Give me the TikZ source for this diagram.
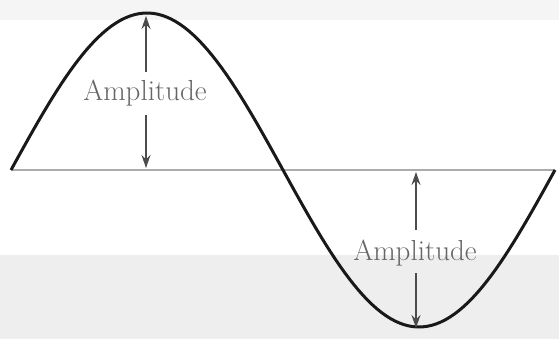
\documentclass[tikz,border=0pt]{standalone}
\usetikzlibrary{arrows.meta}
\begin{document}
\begin{tikzpicture}[x=1pt,y=-1pt,
  wave/.style={line width=3pt,black!90},
  axisline/.style={line width=2pt,gray!65},
  amparrow/.style={line width=1.1pt,black!70,-{Stealth[length=13pt,width=9pt]}},
  amplabel/.style={text=black!60,font=\fontsize{29}{33}\selectfont,anchor=base,inner sep=0pt}]
\useasboundingbox (0,0) rectangle (559,339);
\fill[gray!13] (0,255) rectangle (559,339);
\fill[gray!8] (0,0) rectangle (559,20);
% axis
\coordinate (axl) at (11,170);
\coordinate (axr) at (555,170);
\draw[axisline] (axl) -- (axr);
% sine wave
\draw[wave,line join=round] plot[domain=0:360,samples=120] ({11+\x/360*544},{170-157*sin(\x)});
% upper amplitude
\coordinate (peak) at (146,16);
\coordinate (base1) at (146,168);
\coordinate (s1t) at (146,72);
\coordinate (s1b) at (146,115);
\node[amplabel] (amp1) at (145,101) {Amplitude};
\draw[amparrow] (s1t) -- (peak);
\draw[amparrow] (s1b) -- (base1);
% lower amplitude
\coordinate (trough) at (416,328);
\coordinate (base2) at (416,172);
\coordinate (s2t) at (416,230);
\coordinate (s2b) at (416,273);
\node[amplabel] (amp2) at (415,260) {Amplitude};
\draw[amparrow] (s2t) -- (base2);
\draw[amparrow] (s2b) -- (trough);
\end{tikzpicture}
\end{document}
